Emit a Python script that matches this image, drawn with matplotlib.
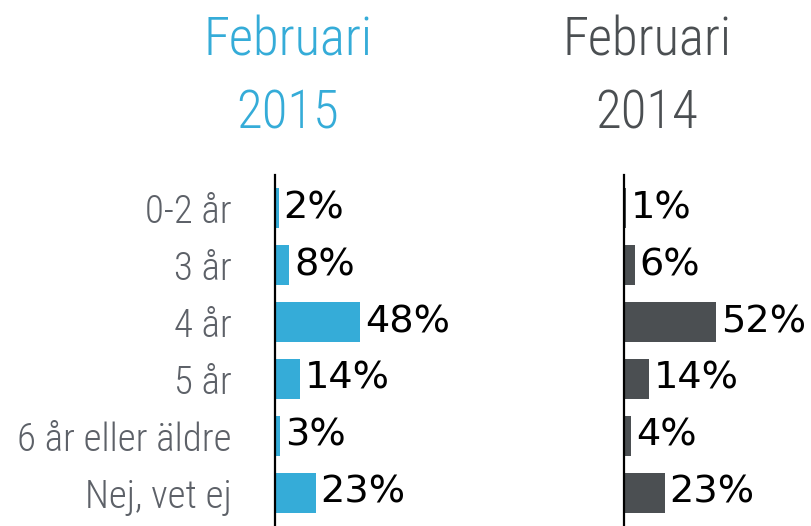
import matplotlib.pyplot as plt
from matplotlib import font_manager
from matplotlib.font_manager import FontProperties

categories = ["0-2 år", "3 år", "4 år", "5 år", "6 år eller äldre", "Nej, vet ej"]
values_2015 = [2, 8, 48, 14, 3, 23]
values_2014 = [1, 6, 52, 14, 4, 23]

blue = "#35acd8"
dark = "#4b4f52"
label_grey = "#5d6168"


# pick a light condensed face by file, falls back to DejaVu Sans
def light_condensed():
    for cand in ["Open Sans Condensed", "Roboto Condensed"]:
        for f in font_manager.fontManager.ttflist:
            if f.name == cand and f.weight == 300 and f.style == "normal":
                return f.fname
    return None


fpath = light_condensed()


def narrow(size):
    if fpath:
        return FontProperties(fname=fpath, size=size)
    return FontProperties(family="DejaVu Sans", size=size * 0.8)


W, H = 812, 526
fig = plt.figure(figsize=(W / 100, H / 100), dpi=100)

px_per_pct = 1.77
xmax = 60


def make_ax(x0, vals, color, show_labels):
    ax = fig.add_axes([x0 / W, 0, xmax * px_per_pct / W, (H - 175) / H])
    ypos = list(range(len(vals)))
    ax.barh(ypos, vals, height=0.7, color=color)
    ax.set_xlim(0, xmax)
    ax.set_ylim(5.58, -0.58)
    for s in ["top", "right", "bottom"]:
        ax.spines[s].set_visible(False)
    ax.spines["left"].set_linewidth(1.6)
    ax.spines["left"].set_color("black")
    ax.set_xticks([])
    ax.set_yticks(ypos)
    ax.tick_params(axis="y", length=0, pad=31)
    if show_labels:
        ax.set_yticklabels(categories, fontproperties=narrow(28), color=label_grey)
    else:
        ax.set_yticklabels([])
    for y, v in zip(ypos, vals):
        ax.annotate(f"{v}%", (v, y), xytext=(3.5, 0), textcoords="offset points",
                    va="center", ha="left", fontsize=27.5, color="black")
    return ax


make_ax(275, values_2015, blue, True)
make_ax(624, values_2014, dark, False)

for x, year, col in [(288, "2015", blue), (647, "2014", dark)]:
    fig.text(x / W, 1 - 56 / H, "Februari", ha="center", va="baseline",
             fontproperties=narrow(38), color=col)
    fig.text(x / W, 1 - 129 / H, year, ha="center", va="baseline",
             fontproperties=narrow(38), color=col)

fig.savefig("out.png", dpi=100)
